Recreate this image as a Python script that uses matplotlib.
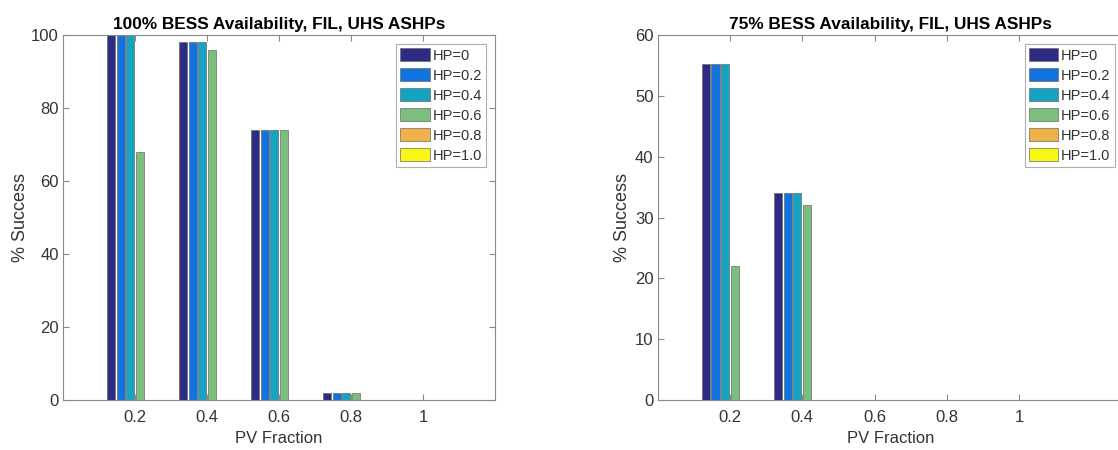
"""Grouped bar charts: % success vs PV fraction for two BESS availability levels."""

import numpy as np
import matplotlib
matplotlib.use("Agg")
import matplotlib.pyplot as plt

plt.rcParams["font.family"] = ["Liberation Sans", "DejaVu Sans"]

pv_fraction = [0.2, 0.4, 0.6, 0.8, 1.0]
pv_labels = ["0.2", "0.4", "0.6", "0.8", "1"]
hp_labels = ["HP=0", "HP=0.2", "HP=0.4", "HP=0.6", "HP=0.8", "HP=1.0"]
hp_colors = ["#2e2b84", "#1272de", "#14a4c1", "#7cbe7e", "#f1b149", "#f8f714"]

# rows: HP level, columns: PV fraction
success_100 = [
    [100, 98, 74, 2, 0],
    [100, 98, 74, 2, 0],
    [100, 98, 74, 2, 0],
    [68, 96, 74, 2, 0],
    [0, 0, 0, 0, 0],
    [0, 0, 0, 0, 0],
]
success_75 = [
    [55.2, 34, 0, 0, 0],
    [55.2, 34, 0, 0, 0],
    [55.2, 34, 0, 0, 0],
    [22, 32, 0, 0, 0],
    [0, 0, 0, 0, 0],
    [0, 0, 0, 0, 0],
]

W, H = 1118, 450
fig = plt.figure(figsize=(W / 100, H / 100), dpi=100)


def draw_panel(rect, values, title, ymax, yticks, xmax, ylab_x):
    ax = fig.add_axes(rect)
    x = np.array(pv_fraction)
    slot = 0.0267
    for i, (vals, col, lab) in enumerate(zip(values, hp_colors, hp_labels)):
        ax.bar(x + (i - 2.5) * slot, vals, width=0.0225, color=col,
               edgecolor="#6a6a6a", linewidth=0.5, label=lab)
    ax.set_xlim(0, xmax)
    ax.set_ylim(0, ymax)
    ax.set_xticks(pv_fraction)
    ax.set_xticklabels(pv_labels)
    ax.set_yticks(yticks)
    ax.tick_params(direction="in", top=True, right=True, length=4,
                   color="#8a8a8a", labelcolor="#333333", labelsize=12)
    ax.tick_params(axis="x", pad=7)
    ax.tick_params(axis="y", pad=3)
    for sp in ax.spines.values():
        sp.set_color("#8a8a8a")
        sp.set_linewidth(0.8)
    ax.set_title(title, fontsize=12.4, fontweight="bold", pad=4)
    ax.set_xlabel("PV Fraction", fontsize=12, color="#333333")
    ax.set_ylabel("% Success", fontsize=13, color="#333333")
    ax.xaxis.set_label_coords(0.5, -0.085)
    ax.yaxis.set_label_coords(ylab_x, 0.5)
    leg = ax.legend(loc="upper right", fontsize=10.5, frameon=True, fancybox=False,
                    borderaxespad=0.6, handlelength=2.0, handleheight=1.0,
                    handletextpad=0.2, labelspacing=0.38, borderpad=0.3,
                    edgecolor="#9a9a9a")
    leg.get_frame().set_linewidth(0.8)
    for t in leg.get_texts():
        t.set_color("#333333")
    return ax


draw_panel([63 / W, 50 / H, 432 / W, 365 / H], success_100,
           "100% BESS Availability, FIL, UHS ASHPs", 100, range(0, 101, 20), 1.2,
           -0.078)
draw_panel([657.75 / W, 50 / H, 466 / W, 365 / H], success_75,
           "75% BESS Availability, FIL, UHS ASHPs", 60, range(0, 61, 10),
           1.2 * 466 / 433.5, -0.058)

fig.savefig("out.png", dpi=100)
